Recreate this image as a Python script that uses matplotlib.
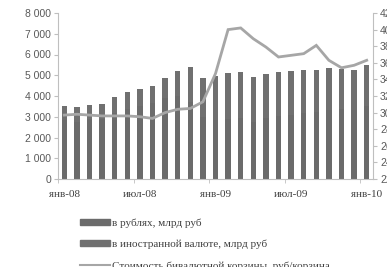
import matplotlib

matplotlib.use("Agg")
import matplotlib.pyplot as plt
import numpy as np
from matplotlib.patches import Patch
from matplotlib.lines import Line2D
from matplotlib.ticker import FuncFormatter

# months Jan-2008 .. Jan-2010
months = ["янв-08", "фев-08", "мар-08", "апр-08", "май-08", "июн-08", "июл-08",
          "авг-08", "сен-08", "окт-08", "ноя-08", "дек-08", "янв-09", "фев-09",
          "мар-09", "апр-09", "май-09", "июн-09", "июл-09", "авг-09", "сен-09",
          "окт-09", "ноя-09", "дек-09", "янв-10"]
# deposits, bn rub (stacked: rubles + foreign currency)
rub = [2840, 2765, 2870, 2905, 3175, 3390, 3500, 3650, 3900, 4000, 3715, 2980,
       2865, 2875, 2925, 2765, 2925, 3060, 3105, 3190, 3240, 3335, 3370, 3340, 3530]
fx = [700, 690, 700, 710, 760, 800, 820, 850, 950, 1200, 1700, 1900,
      2100, 2250, 2250, 2150, 2150, 2100, 2100, 2050, 2000, 2000, 1950, 1900, 1950]
# bi-currency basket, rub/basket
basket = [29.7, 29.8, 29.7, 29.6, 29.6, 29.6, 29.5, 29.3, 30.0, 30.4, 30.5, 31.3,
          34.7, 40.0, 40.2, 38.9, 37.9, 36.7, 36.9, 37.1, 38.1, 36.3, 35.4, 35.7, 36.3]
labels = ["в рублях, млрд руб", "в иностранной валюте, млрд руб",
          "Стоимость бивалютной корзины, руб/корзина"]

BAR = "#6b6b6b"
BAR2 = "#707070"
LINE = "#a6a6a6"
AX = "#bfbfbf"
TXT = "#595959"

fig = plt.figure(figsize=(3.87, 2.67), dpi=100)
ax = fig.add_axes([58 / 387, 1 - 179 / 267, 315 / 387, 166 / 267])
ax2 = ax.twinx()

x = np.arange(len(months))
ax.bar(x, rub, width=0.42, color=BAR, zorder=2)
ax.bar(x, fx, width=0.42, bottom=rub, color=BAR2, zorder=2)
ax2.plot(x, basket, color=LINE, lw=2.0, solid_joinstyle="miter")

ax.set_xlim(-0.5, 24.5)
ax.set_ylim(0, 8000)
ax.set_yticks(np.arange(0, 8001, 1000))
ax.yaxis.set_major_formatter(FuncFormatter(lambda v, p: f"{int(v):,}".replace(",", " ")))
ax2.set_ylim(22, 42)
ax2.set_yticks(np.arange(22, 43, 2))

lab_idx = [0, 6, 12, 18, 24]
ax.set_xticks(lab_idx)
ax.set_xticklabels([months[i] for i in lab_idx], family="Liberation Serif",
                   fontsize=8, color="#404040")
ax.set_xticks([-0.5, 5.5, 11.5, 17.5, 23.5], minor=True)
ax.tick_params(axis="x", which="major", length=0, pad=8)
ax.tick_params(axis="x", which="minor", length=3, color=AX, direction="out")
ax.tick_params(axis="y", length=3, color=AX, labelsize=7.5, labelcolor=TXT, pad=2)
ax2.tick_params(axis="y", length=3, color=AX, labelsize=7.5, labelcolor=TXT, pad=2)
for t in ax.get_yticklabels() + ax2.get_yticklabels():
    t.set_family("Liberation Sans")

for a in (ax, ax2):
    a.spines["top"].set_visible(False)
    for s in ("left", "right", "bottom"):
        a.spines[s].set_color(AX)
ax.spines["right"].set_visible(False)
ax2.spines["left"].set_visible(False)
ax2.spines["bottom"].set_visible(False)

handles = [Patch(color=BAR), Patch(color=BAR2), Line2D([], [], color=LINE, lw=1.5)]
fig.legend(handles, labels, loc="upper left", bbox_to_anchor=(80 / 387, 1 - 218 / 267),
           frameon=False, borderpad=0, borderaxespad=0, handlelength=2.7,
           handleheight=0.45, handletextpad=0.2, labelspacing=1.1,
           prop={"family": "Liberation Serif", "size": 8}, labelcolor="#404040")

fig.savefig("out.png", dpi=100)
